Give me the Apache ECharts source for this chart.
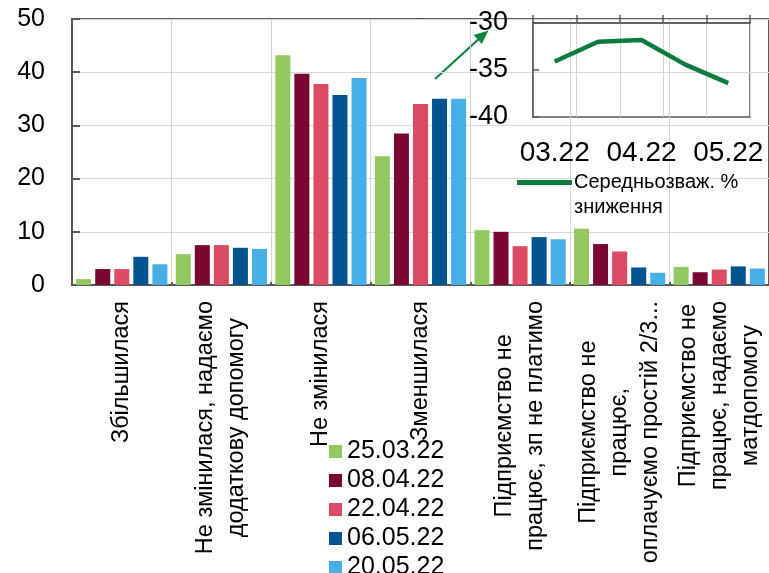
<!DOCTYPE html>
<html>
<head>
<meta charset="utf-8">
<script src="https://cdn.jsdelivr.net/npm/echarts@6/dist/echarts.min.js"></script>
<style>
  html, body { margin: 0; padding: 0; background: #fff; }
  #chart { width: 769px; height: 573px; }
</style>
</head>
<body>
<div id="chart"></div>
<script>
// Categories (answer options), multi-line labels
const categories = [
  'Збільшилася',
  'Не змінилася, надаємо\nдодаткову допомогу',
  'Не змінилася',
  'Зменшилася',
  'Підприємство не\nпрацює, зп не платимо',
  'Підприємство не\nпрацює,\nоплачуємо простій 2/3...',
  'Підприємство не\nпрацює, надаємо\nматдопомогу'
];

// Survey waves
const waveNames = ['25.03.22', '08.04.22', '22.04.22', '06.05.22', '20.05.22'];

// Share of respondents, % (one array per wave)
const wave250322 = [1.1, 5.8, 43.2, 24.2, 10.3, 10.6, 3.4];
const wave080422 = [3.0, 7.5, 39.7, 28.5, 10.0, 7.7, 2.4];
const wave220422 = [3.0, 7.5, 37.8, 34.0, 7.3, 6.3, 2.9];
const wave060522 = [5.3, 7.0, 35.7, 35.0, 9.0, 3.3, 3.5];
const wave200522 = [3.9, 6.8, 38.9, 35.0, 8.6, 2.3, 3.1];

// Inset: weighted average % of reduction
const trendName = 'Середньозваж. % зниження';
const trendMonths = ['03.22', '04.22', '04.22', '05.22', '05.22'];
const trendValues = [-34.1, -32.0, -31.8, -34.4, -36.4];

const waveColors = ['#92C862', '#7A0632', '#DC4B65', '#00548F', '#46AFE5'];
const waveData = [wave250322, wave080422, wave220422, wave060522, wave200522];
const trendColor = '#0B7B3E';

const FONT = '"Liberation Sans", Arial, sans-serif';
const FRAME = '#595959';

const barSeries = waveNames.map((name, i) => ({
  name: name,
  type: 'bar',
  xAxisIndex: 0,
  yAxisIndex: 0,
  data: waveData[i],
  barWidth: 15,
  barGap: '27%',
  itemStyle: { color: waveColors[i] }
}));

const chart = echarts.init(document.getElementById('chart'), null, { renderer: 'canvas' });

chart.setOption({
  animation: false,
  backgroundColor: '#fff',
  textStyle: { fontFamily: FONT },
  grid: [
    { left: 72, top: 19, right: -4, bottom: 288, show: true, borderColor: FRAME, borderWidth: 2, backgroundColor: 'transparent' },
    { left: 533, top: 23, width: 217, height: 94, show: true, borderColor: FRAME, borderWidth: 1.5, backgroundColor: 'transparent' }
  ],
  legend: [
    {
      data: waveNames,
      orient: 'vertical',
      left: 329,
      top: 439,
      height: 200,
      padding: 0,
      itemWidth: 13,
      itemHeight: 13,
      itemGap: 4,
      icon: 'rect',
      textStyle: { fontSize: 25, lineHeight: 24, color: '#000', fontFamily: FONT }
    },
    {
      data: [{ name: trendName, icon: 'rect' }],
      left: 517,
      top: 145,
      padding: 0,
      itemWidth: 55,
      itemHeight: 5,
      itemGap: 0,
      formatter: () => '\nСередньозваж. %\nзниження',
      textStyle: { fontSize: 20, lineHeight: 25, color: '#000', fontFamily: FONT, padding: [0, 0, 0, -3] }
    }
  ],
  xAxis: [
    {
      type: 'category',
      gridIndex: 0,
      data: categories,
      boundaryGap: true,
      axisLine: { show: true, lineStyle: { color: FRAME, width: 2 } },
      axisTick: { show: true, inside: true, length: 3, interval: 0, lineStyle: { color: FRAME, width: 2 } },
      splitLine: { show: true, interval: 0, lineStyle: { color: '#cfd5da', width: 1 } },
      axisLabel: {
        interval: 0,
        rotate: 90,
        margin: 16,
        color: '#000',
        formatter: (value) => value.split('\n').map(l => '{c|' + l + '}').join('\n'),
        rich: {
          c: { align: 'center', fontSize: 23.5, lineHeight: 31, color: '#000', fontFamily: FONT }
        }
      }
    },
    {
      type: 'category',
      gridIndex: 1,
      data: trendMonths,
      position: 'top',
      boundaryGap: true,
      axisLine: { show: true, lineStyle: { color: FRAME, width: 1.5 } },
      axisTick: { show: true, inside: false, length: 8, interval: 0, lineStyle: { color: FRAME, width: 1.5 } },
      splitLine: { show: true, interval: 0, lineStyle: { color: '#cfd5da', width: 1 } },
      axisLabel: { show: false }
    },
    {
      type: 'category',
      gridIndex: 1,
      data: trendMonths,
      position: 'bottom',
      boundaryGap: true,
      axisLine: { show: false },
      axisTick: { show: false },
      splitLine: { show: false },
      axisLabel: { interval: 1, margin: 22, fontSize: 28, color: '#000', fontFamily: FONT }
    }
  ],
  yAxis: [
    {
      type: 'value',
      gridIndex: 0,
      min: 0,
      max: 50,
      interval: 10,
      axisLine: { show: true, lineStyle: { color: FRAME, width: 2 } },
      axisTick: { show: true, inside: true, length: 8, lineStyle: { color: FRAME, width: 2 } },
      splitLine: { show: true, lineStyle: { color: '#d9d9d9', width: 1 } },
      axisLabel: { fontSize: 25, margin: 27, color: '#000', fontFamily: FONT }
    },
    {
      type: 'value',
      gridIndex: 1,
      min: -40,
      max: -30,
      interval: 5,
      axisLine: { show: true, lineStyle: { color: FRAME, width: 1.5 } },
      axisTick: { show: true, inside: true, length: 6, lineStyle: { color: FRAME, width: 1.5 } },
      splitLine: { show: false },
      axisLabel: { fontSize: 27, margin: 25, color: '#000', fontFamily: FONT }
    }
  ],
  series: barSeries.concat([
    {
      name: trendName,
      type: 'line',
      xAxisIndex: 1,
      yAxisIndex: 1,
      data: trendValues,
      symbol: 'none',
      lineStyle: { color: trendColor, width: 4.5 },
      itemStyle: { color: trendColor },
      z: 5
    }
  ]),
  graphic: [
    {
      type: 'group',
      z: 10,
      children: [
        { type: 'line', shape: { x1: 435, y1: 79, x2: 481, y2: 37 }, style: { stroke: '#0E8445', lineWidth: 2.2 } },
        { type: 'polygon', shape: { points: [[488.5, 30.5], [473.6, 35.1], [481.8, 43.9]] }, style: { fill: '#0E8445' } }
      ]
    }
  ]
});
</script>
</body>
</html>
